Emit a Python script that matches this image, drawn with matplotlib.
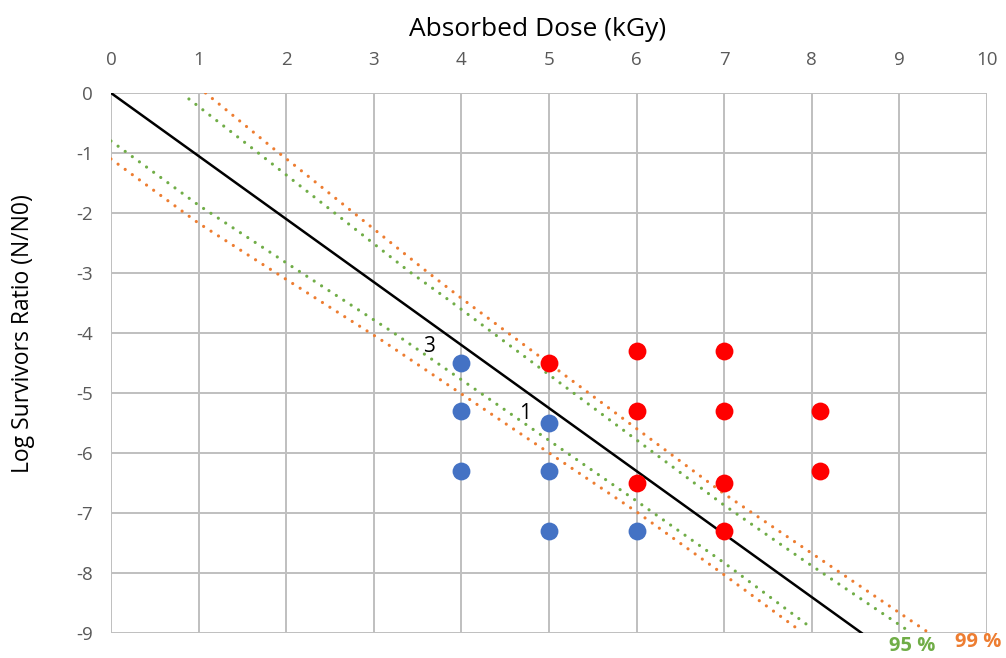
import matplotlib.pyplot as plt

# points
blue_x = [4, 4, 4, 5, 5, 5, 6]
blue_y = [-4.5, -5.3, -6.3, -5.5, -6.3, -7.3, -7.3]
red_x = [5, 6, 7, 6, 7, 8.1, 6, 7, 8.1, 7]
red_y = [-4.5, -4.3, -4.3, -5.3, -5.3, -5.3, -6.5, -6.5, -6.3, -7.3]

# regression line
fit_x = [0, 8.57]
fit_y = [0, -9]

# confidence bands
g95_up_x = [0.89, 1.7, 2.1, 3.4, 3.81, 7.0, 7.9, 9.12]
g95_up_y = [-0.1, -1.02, -1.48, -2.97, -3.4, -6.87, -7.78, -8.98]
g95_lo_x = [0, 1.0, 2.0, 3.21, 6.0, 7.0, 8.01]
g95_lo_y = [-0.8, -1.87, -2.83, -3.98, -6.8, -7.83, -8.93]
o99_up_x = [1.08, 1.9, 2.1, 3.6, 4.0, 7.0, 9.31]
o99_up_y = [0, -0.98, -1.21, -2.97, -3.42, -6.68, -8.97]
o99_lo_x = [0, 1.0, 1.8, 3.1, 6.0, 7.0, 7.81]
o99_lo_y = [-1.1, -2.17, -2.92, -4.13, -6.98, -8.03, -8.9]

xticks = list(range(0, 11))
yticks = list(range(0, -10, -1))

plt.rcParams['font.family'] = ['Open Sans', 'DejaVu Sans']
plt.rcParams['axes.unicode_minus'] = False

fig = plt.figure(figsize=(10.06, 6.58), dpi=100)
ax = fig.add_axes([0.1103, 0.038, 0.8707, 0.8207])

green = '#70AD47'
orange = '#ED7D31'
dots = (0, (0.01, 2.75))

ax.plot(g95_up_x, g95_up_y, color=green, lw=2.3, ls=dots, dash_capstyle='round', zorder=2)
ax.plot(g95_lo_x, g95_lo_y, color=green, lw=2.3, ls=dots, dash_capstyle='round', zorder=2)
ax.plot(o99_up_x, o99_up_y, color=orange, lw=2.3, ls=dots, dash_capstyle='round', zorder=2)
ax.plot(o99_lo_x, o99_lo_y, color=orange, lw=2.3, ls=dots, dash_capstyle='round', zorder=2)
ax.plot(fit_x, fit_y, color='black', lw=1.8, zorder=3)

ax.scatter(blue_x, blue_y, s=165, color='#4472C4', zorder=4, linewidths=0)
ax.scatter(red_x, red_y, s=165, color='#FF0000', zorder=4, linewidths=0)

ax.text(3.63, -4.22, '3', fontsize=15, ha='center', va='center')
ax.text(4.73, -5.35, '1', fontsize=15, ha='center', va='center')

ax.text(9.15, -9.22, '95 %', color=green, fontsize=14.5, fontweight='bold', ha='center', va='center')
ax.text(9.9, -9.15, '99 %', color=orange, fontsize=14.5, fontweight='bold', ha='center', va='center')

ax.set_xlim(0, 10)
ax.set_ylim(-9, 0)
ax.set_xticks(xticks)
ax.set_yticks(yticks)
ax.xaxis.tick_top()
ax.xaxis.set_label_position('top')
ax.tick_params(length=0, labelsize=13.5, labelcolor='#595959')
ax.tick_params(axis='x', pad=17)
ax.tick_params(axis='y', pad=13)
ax.set_xlabel('Absorbed Dose (kGy)', fontsize=19, va='center')
ax.xaxis.set_label_coords(0.487, 1.118)
ax.set_ylabel('Log Survivors Ratio (N/N0)', fontsize=16.5, va='center')
ax.yaxis.set_label_coords(-0.100, 0.554)

ax.grid(True, color='#BFBFBF', lw=1.4)
ax.set_axisbelow(True)
for s in ax.spines.values():
    s.set_visible(False)

fig.savefig('out.png', dpi=100)
